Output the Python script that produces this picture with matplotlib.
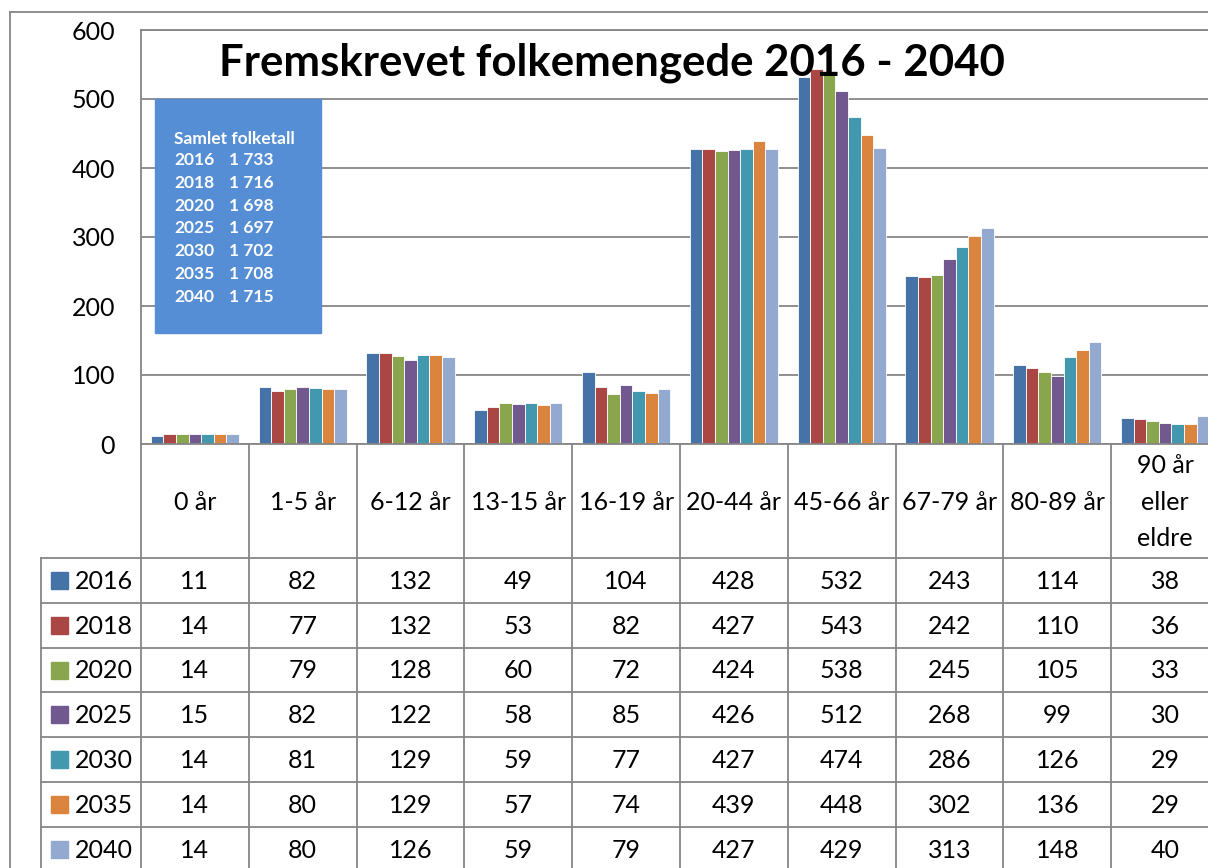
import numpy as np
import matplotlib.pyplot as plt
from matplotlib.patches import Rectangle

plt.rcParams['font.family'] = ['Lato', 'DejaVu Sans']

categories = ['0 år', '1-5 år', '6-12 år', '13-15 år', '16-19 år', '20-44 år',
              '45-66 år', '67-79 år', '80-89 år', '90 år\neller\neldre']
years = ['2016', '2018', '2020', '2025', '2030', '2035', '2040']
values = {
    '2016': [11, 82, 132, 49, 104, 428, 532, 243, 114, 38],
    '2018': [14, 77, 132, 53, 82, 427, 543, 242, 110, 36],
    '2020': [14, 79, 128, 60, 72, 424, 538, 245, 105, 33],
    '2025': [15, 82, 122, 58, 85, 426, 512, 268, 99, 30],
    '2030': [14, 81, 129, 59, 77, 427, 474, 286, 126, 29],
    '2035': [14, 80, 129, 57, 74, 439, 448, 302, 136, 29],
    '2040': [14, 80, 126, 59, 79, 427, 429, 313, 148, 40],
}
totals = ['1 733', '1 716', '1 698', '1 697', '1 702', '1 708', '1 715']
colors = ['#4572A7', '#AA4643', '#89A54E', '#71588F', '#4198AF', '#DB843D', '#93A9CF']
title = 'Fremskrevet folkemengede 2016 - 2040'

W, H = 1208, 868
fig = plt.figure(figsize=(W / 100, H / 100), dpi=100)

# layout in pixels
x0, colw = 141, 107.8
ytop, ybase = 30, 444
nc = len(categories)
gc = '#868686'
fs = 18

ax = fig.add_axes([x0 / W, (H - ybase) / H, nc * colw / W, (ybase - ytop) / H])
ax.set_xlim(0, nc)
ax.set_ylim(0, 600)
bw = 0.117
xs = np.arange(nc) + 0.5
for k, y in enumerate(years):
    ax.bar(xs + (k - 3) * bw, values[y], width=bw, color=colors[k],
           edgecolor='white', linewidth=0.6, zorder=3)
ax.set_yticks(range(0, 601, 100))
ax.yaxis.grid(True, color=gc, linewidth=1.3)
ax.set_axisbelow(True)
ax.set_xticks([])
for s in ['right', 'bottom']:
    ax.spines[s].set_visible(False)
for s in ['left', 'top']:
    ax.spines[s].set_color(gc)
    ax.spines[s].set_linewidth(1.3)
ax.tick_params(axis='y', length=0, labelsize=fs, pad=18.7)

# overlay in pixel coords for table, border, title and text box
ov = fig.add_axes([0, 0, 1, 1])
ov.set_xlim(0, W)
ov.set_ylim(H, 0)
ov.axis('off')
ov.set_zorder(5)

lw = 1.3
# outer chart border
ov.plot([10, 10], [12, H], color=gc, lw=lw)
ov.plot([10, W], [12, 12], color=gc, lw=lw)

hdr_bot = 558
rowh = 44.8
nrows = len(years)
xr = x0 + nc * colw
for i in range(nc + 1):
    xv = x0 + i * colw
    ov.plot([xv, xv], [ybase, H], color=gc, lw=lw)
ov.plot([41, 41], [hdr_bot, H], color=gc, lw=lw)
ov.plot([x0, xr], [ybase, ybase], color=gc, lw=lw)
for r in range(nrows + 1):
    yh = hdr_bot + r * rowh
    ov.plot([41, xr], [yh, yh], color=gc, lw=lw)

for i, c in enumerate(categories):
    ov.text(x0 + (i + 0.5) * colw, (ybase + hdr_bot) / 2 + 1, c, ha='center',
            va='center', fontsize=fs, linespacing=1.7)
for r, y in enumerate(years):
    yc = hdr_bot + (r + 0.5) * rowh
    ov.add_patch(Rectangle((51, yc - 8.5), 17, 17, color=colors[r]))
    ov.text(75, yc + 1, y, ha='left', va='center', fontsize=fs)
    for i, v in enumerate(values[y]):
        ov.text(x0 + (i + 0.5) * colw, yc + 1, str(v), ha='center',
                va='center', fontsize=fs)

# title
ov.text(612, 63, title, ha='center', va='center', fontsize=31.5,
        fontweight='bold')

# text box
tfs = 12.5
ov.add_patch(Rectangle((155, 99), 166, 234, color='#558ED5', zorder=6))
ov.text(174, 139, 'Samlet folketall', ha='left', va='center', fontsize=tfs,
        fontweight='bold', color='white', zorder=7)
for r, y in enumerate(years):
    yy = 160 + r * 22.8
    ov.text(174, yy, y, ha='left', va='center', fontsize=tfs,
            fontweight='bold', color='white', zorder=7)
    ov.text(229, yy, totals[r], ha='left', va='center', fontsize=tfs,
            fontweight='bold', color='white', zorder=7)

fig.savefig('out.png', dpi=100)
